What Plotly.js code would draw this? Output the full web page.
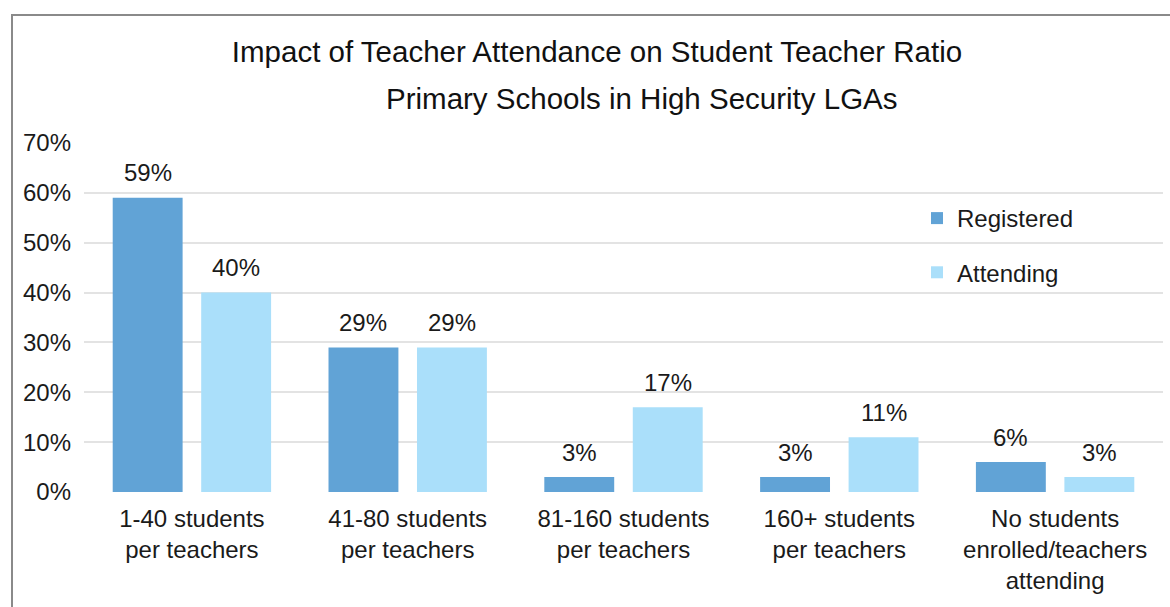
<!DOCTYPE html>
<html>
<head>
<meta charset="utf-8">
<script src="https://cdn.plot.ly/plotly-3.0.1.min.js"></script>
<style>
  html, body { margin: 0; padding: 0; background: #ffffff; }
  #wrap { position: relative; width: 1170px; height: 607px; overflow: hidden; }
  #chart { width: 1170px; height: 607px; }
  #frame { position: absolute; left: 11px; top: 14px; width: 1300px; height: 800px;
           border: 2px solid #8a8a8a; pointer-events: none; box-sizing: border-box; }
</style>
</head>
<body>
<div id="wrap">
  <div id="chart"></div>
  <div id="frame"></div>
</div>
<script>
// ---- data ----
const categories = [
  "1-40 students<br>per teachers",
  "41-80 students<br>per teachers",
  "81-160 students<br>per teachers",
  "160+ students<br>per teachers",
  "No students<br>enrolled/teachers<br>attending"
];
const registered = [0.59, 0.29, 0.03, 0.03, 0.06];
const attending  = [0.40, 0.29, 0.17, 0.11, 0.03];
const seriesNames = ["Registered", "Attending"];
const yTickVals = [0, 0.1, 0.2, 0.3, 0.4, 0.5, 0.6, 0.7];
const yTickText = ["0%", "10%", "20%", "30%", "40%", "50%", "60%", "70%"];
const titleLine1 = "Impact of Teacher Attendance on Student Teacher Ratio";
const titleLine2 = "Primary Schools in High Security LGAs";

const FONT = "Liberation Sans, Arial, Helvetica, sans-serif";
const TXT = "#1a1a1a";
const BARGAP = 0.18;
const HALF = (1 - BARGAP) / 4;   // offset of each bar centre from the category centre, in category units

const traces = [
  {
    type: "bar", name: seriesNames[0], x: categories, y: registered,
    legendgroup: "g1",
    marker: { color: "#61a3d6", line: { width: 0 } },
    hoverinfo: "skip"
  },
  {
    type: "bar", name: seriesNames[1], x: categories, y: attending,
    legendgroup: "g2",
    marker: { color: "#aadffa", line: { width: 0 } },
    hoverinfo: "skip"
  }
];

// value labels above each bar, placed through the axis scales
const labelAnns = [];
[registered, attending].forEach((series, s) => {
  series.forEach((v, i) => {
    labelAnns.push({
      x: i + (s === 0 ? -HALF : HALF), y: v,
      xref: "x", yref: "y",
      text: Math.round(v * 100) + "%",
      showarrow: false, xanchor: "center", yanchor: "middle", yshift: 25,
      font: { family: FONT, size: 24, color: TXT }
    });
  });
});

const layout = {
  width: 1170, height: 607,
  paper_bgcolor: "#ffffff", plot_bgcolor: "#ffffff",
  font: { family: FONT, size: 24, color: TXT },
  margin: { l: 84, r: 7, t: 143, b: 115, pad: 0 },
  title: {
    text: titleLine1,
    font: { family: FONT, size: 29.5, color: "#111111" },
    x: 597 / 1170, xref: "container", xanchor: "center",
    y: 1 - 52 / 607, yref: "container", yanchor: "middle"
  },
  annotations: [{
    text: titleLine2, showarrow: false,
    xref: "paper", yref: "paper",
    x: (642 - 84) / 1079, y: (492 - 98) / 349,
    xanchor: "center", yanchor: "middle",
    font: { family: FONT, size: 29.5, color: "#111111" }
  }].concat(labelAnns),
  barmode: "group",
  bargap: BARGAP,
  bargroupgap: 0.21,
  xaxis: {
    type: "category",
    showgrid: false, zeroline: false, showline: false,
    ticks: "", ticklabelstandoff: 10,
    tickfont: { family: FONT, size: 24, color: TXT }
  },
  yaxis: {
    range: [0, 0.7],
    tickvals: yTickVals, ticktext: yTickText,
    showgrid: true, gridcolor: "#e3e3e3", gridwidth: 2,
    zeroline: false, showline: false, ticks: "",
    ticklabelstandoff: 12,
    tickfont: { family: FONT, size: 24, color: TXT }
  },
  showlegend: true,
  legend: {
    x: (917 - 84) / 1079, y: (492 - 196) / 349,
    xanchor: "left", yanchor: "top",
    bgcolor: "rgba(0,0,0,0)",
    font: { family: FONT, size: 24, color: TXT },
    tracegroupgap: 20,
    traceorder: "grouped"
  }
};

Plotly.newPlot("chart", traces, layout, { staticPlot: true, displayModeBar: false });
</script>
</body>
</html>
